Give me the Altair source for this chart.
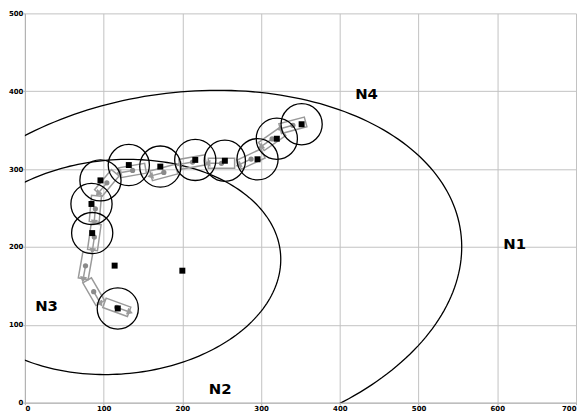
import altair as alt
import numpy as np
import pandas as pd

# estimated positions (black squares)
est_x = [118, 114, 200, 85.5, 84.6, 96, 132, 172, 216.4, 254, 295.5, 320, 351.5]
est_y = [121, 176, 169.5, 217.8, 255.2, 285.5, 305.2, 303.2, 311.8, 310.7, 312.6, 339, 357.6]
has_circle = [1, 0, 0, 1, 1, 1, 1, 1, 1, 1, 1, 1, 1]

# odometry poses (grey): position and heading in degrees
pose_x = [340.4, 314, 287.3, 249.7, 213, 176.5, 136.8, 104.1, 89.5, 88.2, 77, 87.4, 116.7]
pose_y = [356.3, 338.7, 312.9, 307.4, 309, 295.7, 298.2, 282.3, 249, 212.7, 175.8, 142.5, 122.4]
heading = [195, 215, 205, 180, 190, 195, 190, 230, 265, 262, 260, 300, 340]

# the two ellipses: centre, semi-axes, rotation (degrees)
ell_name = ["big", "small"]
ell_cx = [200.8, 116.5]
ell_cy = [171.4, 174.3]
ell_a = [356.0, 208.9]
ell_b = [226.8, 137.6]
ell_ang = [7.8, 4.7]

lab_text = ["N1", "N2", "N3", "N4"]
lab_x = [622, 248, 27.5, 434]
lab_y = [204, 17.5, 124.7, 397]

rows = []
for name, cx, cy, a, b, ang in zip(ell_name, ell_cx, ell_cy, ell_a, ell_b, ell_ang):
    phi = np.radians(ang)
    for i, t in enumerate(np.linspace(0, 2 * np.pi, 241)):
        ex = cx + a * np.cos(t) * np.cos(phi) - b * np.sin(t) * np.sin(phi)
        ey = cy + a * np.cos(t) * np.sin(phi) + b * np.sin(t) * np.cos(phi)
        rows.append({"name": name, "t": i, "x": ex, "y": ey})
ell = pd.DataFrame(rows)

est = pd.DataFrame({"x": est_x, "y": est_y, "c": has_circle})
poses = pd.DataFrame({"x": pose_x, "y": pose_y,
                      "ang": [(360 - h) % 360 for h in heading]})
labs = pd.DataFrame({"x": lab_x, "y": lab_y, "t": lab_text})

xs = alt.Scale(domain=[0, 700], nice=False, zero=False)
ys = alt.Scale(domain=[0, 500], nice=False, zero=False)
common = dict(grid=True, gridColor="#c2c2c2", gridWidth=1, domainColor="#b0b0b0",
              tickColor="#b0b0b0", tickSize=2, labelFont="DejaVu Sans",
              labelFontWeight="bold", labelFontSize=7, labelColor="black",
              title=None, labelPadding=0)
xax = alt.Axis(values=list(range(0, 701, 100)), **common)
yax = alt.Axis(values=list(range(0, 501, 100)), **common)
X = alt.X("x:Q", scale=xs, axis=xax)
Y = alt.Y("y:Q", scale=ys, axis=yax)

RECT = "M-1,-0.38H1V0.38H-1Z M0,0H0.86"
TRI = "M0.84,-0.27L1.3,0L0.84,0.27Z"
GREY = "#9a9a9a"

ellipses = alt.Chart(ell).mark_line(color="black", strokeWidth=1.3, clip=True).encode(
    x=X, y=Y, order="t:Q", detail="name:N")
rects = alt.Chart(poses).mark_point(shape=RECT, filled=False, stroke=GREY, strokeWidth=1.5,
                                    size=700, opacity=1).encode(
    x=X, y=Y, angle=alt.Angle("ang:Q", scale=None))
tris = alt.Chart(poses).mark_point(shape=TRI, filled=True, fill=GREY, strokeWidth=0,
                                   size=700, opacity=1).encode(
    x=X, y=Y, angle=alt.Angle("ang:Q", scale=None))
dots = alt.Chart(poses).mark_circle(size=28, color="#8a8a8a", opacity=1).encode(x=X, y=Y)
squares = alt.Chart(est).mark_square(size=36, color="black", opacity=1).encode(x=X, y=Y)
circles = alt.Chart(est).transform_filter("datum.c == 1").mark_point(
    shape="circle", filled=False, size=1720, stroke="black", strokeWidth=1.3, opacity=1).encode(x=X, y=Y)
texts = alt.Chart(labs).mark_text(font="DejaVu Sans", fontWeight="bold", fontSize=15,
                                  color="black").encode(x=X, y=Y, text="t:N")

chart = alt.layer(ellipses, rects, tris, dots, squares, circles, texts).properties(
    width=555, height=392, padding=0
).configure_view(stroke=None)

chart.save("out.html", embed_options={"renderer": "svg", "actions": False})
